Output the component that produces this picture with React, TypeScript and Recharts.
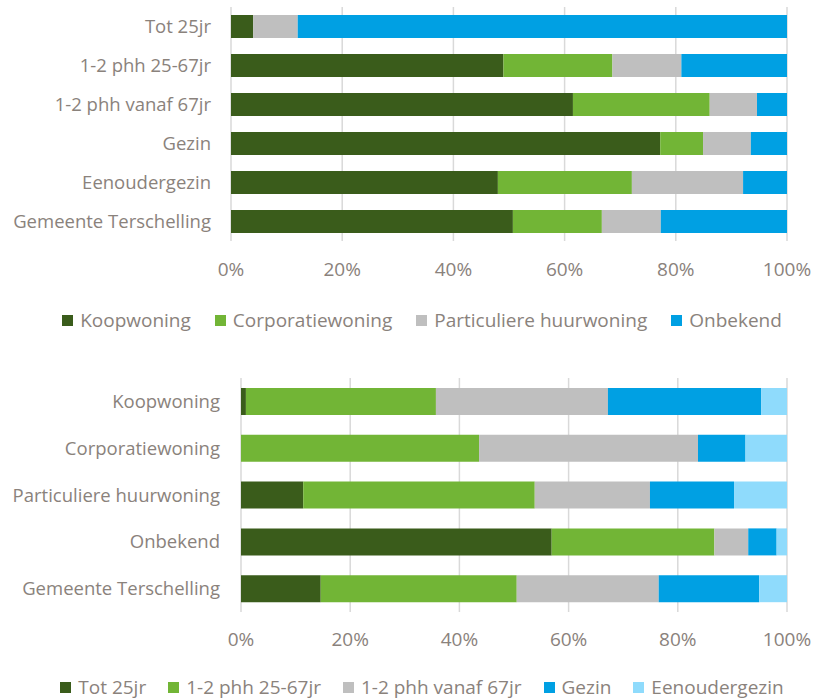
import React from 'react';
import { BarChart, Bar, XAxis, YAxis, CartesianGrid, Legend } from 'recharts';

// ---- Chart 1: woningtype per huishoudtype ----
const householdTypes = ['Tot 25jr', '1-2 phh 25-67jr', '1-2 phh vanaf 67jr', 'Gezin', 'Eenoudergezin', 'Gemeente Terschelling'];
const koopwoning = [4, 49, 61.5, 77.2, 48, 50.7];
const corporatiewoning = [0, 19.6, 24.6, 7.7, 24.1, 16];
const particuliereHuur = [8, 12.4, 8.5, 8.6, 20, 10.6];
const onbekend = [88, 19, 5.4, 6.5, 7.9, 22.7];

// ---- Chart 2: huishoudtype per woningtype ----
const tenureTypes = ['Koopwoning', 'Corporatiewoning', 'Particuliere huurwoning', 'Onbekend', 'Gemeente Terschelling'];
const tot25 = [0.9, 0, 11.4, 56.9, 14.6];
const phh2567 = [34.8, 43.6, 42.4, 29.8, 35.9];
const phh67 = [31.5, 40.1, 21.1, 6.2, 26];
const gezin = [28.1, 8.7, 15.4, 5.2, 18.4];
const eenoudergezin = [4.7, 7.6, 9.7, 1.9, 5.1];

const pctTicks = [0, 0.2, 0.4, 0.6, 0.8, 1];

const TEXT = '#8A827C';
const FONT = '"Open Sans", sans-serif';

const series1 = [
  { key: 'Koopwoning', color: '#3A5C1B', values: koopwoning },
  { key: 'Corporatiewoning', color: '#72B536', values: corporatiewoning },
  { key: 'Particuliere huurwoning', color: '#BFBFBF', values: particuliereHuur },
  { key: 'Onbekend', color: '#00A0E3', values: onbekend },
];

const series2 = [
  { key: 'Tot 25jr', color: '#3A5C1B', values: tot25 },
  { key: '1-2 phh 25-67jr', color: '#72B536', values: phh2567 },
  { key: '1-2 phh vanaf 67jr', color: '#BFBFBF', values: phh67 },
  { key: 'Gezin', color: '#00A0E3', values: gezin },
  { key: 'Eenoudergezin', color: '#8FDBFC', values: eenoudergezin },
];

const data1 = householdTypes.map((name, i) => {
  const row: any = { name };
  series1.forEach((s) => (row[s.key] = s.values[i]));
  return row;
});

const data2 = tenureTypes.map((name, i) => {
  const row: any = { name };
  series2.forEach((s) => (row[s.key] = s.values[i]));
  return row;
});

const LegendRow = ({ items, gap }: { items: { key: string; color: string }[]; gap: number }) => (
  <div style={{ display: 'flex', justifyContent: 'center', gap, fontFamily: FONT, fontSize: 19, color: TEXT, lineHeight: '18px', whiteSpace: 'nowrap' }}>
    {items.map((it) => (
      <div key={it.key} style={{ display: 'flex', alignItems: 'center' }}>
        <span style={{ display: 'inline-block', width: 11, height: 11, background: it.color, marginRight: 7 }} />
        <span>{it.key}</span>
      </div>
    ))}
  </div>
);

const fmt = (v: number) => `${Math.round(v * 100)}%`;
const xTickStyle = { fill: TEXT, fontSize: 19, fontFamily: FONT };
const yTickStyle = { fill: TEXT, fontSize: 18.5, fontFamily: FONT };

export default function App() {
  return (
    <div style={{ position: 'absolute', left: 0, top: 0, width: 814, height: 700, background: '#fff', overflow: 'hidden' }}>
      <div style={{ position: 'absolute', left: 0, top: 0 }}>
        <BarChart
          width={814}
          height={350}
          data={data1}
          layout="vertical"
          stackOffset="expand"
          margin={{ top: 7, right: 27, bottom: 79, left: 0 }}
        >
          <CartesianGrid horizontal={false} stroke="#D9D9D9" strokeWidth={1.5} />
          <XAxis type="number" domain={[0, 1]} ticks={pctTicks} tickFormatter={fmt} axisLine={false} tickLine={false} tick={xTickStyle} tickMargin={16} height={30} interval={0} />
          <YAxis type="category" dataKey="name" width={231} axisLine={false} tickLine={false} tick={yTickStyle} tickMargin={14} interval={0} />
          {series1.map((s) => (
            <Bar key={s.key} dataKey={s.key} stackId="a" fill={s.color} barSize={23} isAnimationActive={false} />
          ))}
          <Legend
            layout="horizontal"
            verticalAlign="middle"
            align="center"
            wrapperStyle={{ top: 311, left: 30, width: 784 }}
            content={() => <LegendRow items={series1} gap={24} />}
          />
        </BarChart>
      </div>
      <div style={{ position: 'absolute', left: 0, top: 360 }}>
        <BarChart
          width={814}
          height={340}
          data={data2}
          layout="vertical"
          stackOffset="expand"
          margin={{ top: 18, right: 27, bottom: 58, left: 0 }}
        >
          <CartesianGrid horizontal={false} stroke="#D9D9D9" strokeWidth={1.5} />
          <XAxis type="number" domain={[0, 1]} ticks={pctTicks} tickFormatter={fmt} axisLine={false} tickLine={false} tick={xTickStyle} tickMargin={15} height={30} interval={0} />
          <YAxis type="category" dataKey="name" width={241} axisLine={false} tickLine={false} tick={yTickStyle} tickMargin={15} interval={0} />
          {series2.map((s) => (
            <Bar key={s.key} dataKey={s.key} stackId="a" fill={s.color} barSize={27} isAnimationActive={false} />
          ))}
          <Legend
            layout="horizontal"
            verticalAlign="middle"
            align="center"
            wrapperStyle={{ top: 318, left: 30, width: 784 }}
            content={() => <LegendRow items={series2} gap={22} />}
          />
        </BarChart>
      </div>
    </div>
  );
}
